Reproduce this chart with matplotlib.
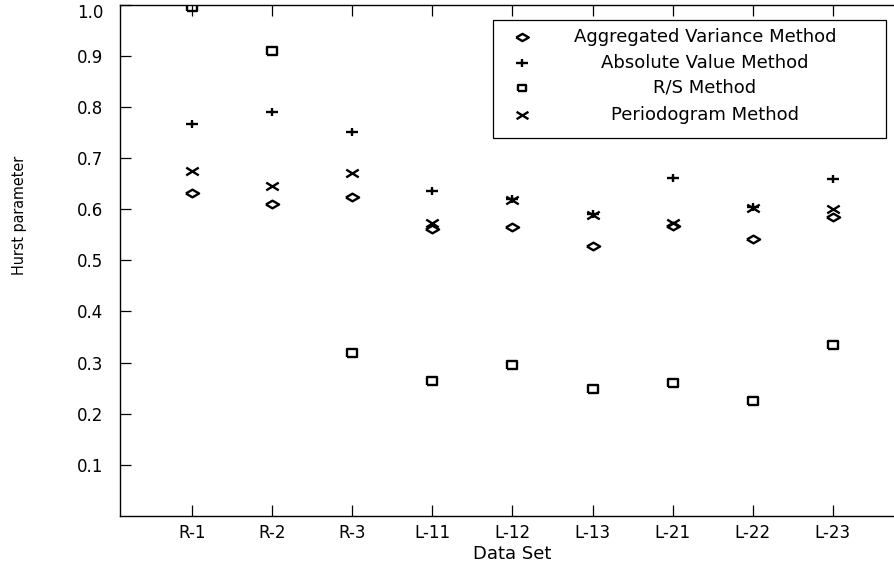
import matplotlib.pyplot as plt
from matplotlib.path import Path
from matplotlib.patches import Rectangle
import numpy as np

# -----------------------------
# Data
# -----------------------------
datasets = ["R-1", "R-2", "R-3", "L-11", "L-12", "L-13", "L-21", "L-22", "L-23"]

aggregated_variance = [0.631, 0.610, 0.623, 0.562, 0.565, 0.528, 0.566, 0.541, 0.584]
absolute_value = [0.767, 0.790, 0.751, 0.635, 0.619, 0.590, 0.661, 0.604, 0.659]
rs_method = [0.996, 0.910, 0.318, 0.263, 0.295, 0.249, 0.260, 0.224, 0.334]
periodogram = [0.674, 0.645, 0.671, 0.573, 0.618, 0.589, 0.572, 0.603, 0.600]

method_names = ["Aggregated Variance Method", "Absolute Value Method",
                "R/S Method", "Periodogram Method"]
y_ticks = [0.1, 0.2, 0.3, 0.4, 0.5, 0.6, 0.7, 0.8, 0.9, 1.0]

# -----------------------------
# Marker shapes (source picture is stretched sideways, so markers are wide)
# -----------------------------
M, L = Path.MOVETO, Path.LINETO
diamond = Path([(-1, 0), (0, 0.58), (1, 0), (0, -0.58), (-1, 0)], [M, L, L, L, L])
plus = Path([(-1, 0), (1, 0), (0, -0.62), (0, 0.62)], [M, L, M, L])
square = Path([(-1, -0.8), (1, -0.8), (1, 0.8), (-1, 0.8), (-1, -0.8)], [M, L, L, L, L])
cross = Path([(-1, -0.62), (1, 0.62), (-1, 0.62), (1, -0.62)], [M, L, M, L])

series = [aggregated_variance, absolute_value, rs_method, periodogram]
markers = [diamond, plus, square, cross]
sizes = [9.5, 9, 6.5, 9]

# -----------------------------
# Figure
# -----------------------------
fig = plt.figure(figsize=(8.95, 5.70), dpi=100)
# axes run slightly past the right edge of the canvas, like the original
ax = fig.add_axes([120 / 895, 54 / 570, 785 / 895, 511.5 / 570])

x = np.arange(1, len(datasets) + 1)
for vals, mk, ms in zip(series, markers, sizes):
    ax.plot(x, vals, linestyle="none", marker=mk, markersize=ms,
            markerfacecolor="none", markeredgecolor="black", markeredgewidth=1.7)

ax.set_xlim(0.1, 9.9)
ax.set_ylim(0, 1.0)
ax.set_xticks(x)
ax.set_xticklabels(datasets)
ax.set_yticks(y_ticks)
ax.set_yticklabels([f"{t:.1f}" for t in y_ticks])

ax.tick_params(direction="in", length=8, width=0.9, top=True, right=True,
               labelsize=12)
ax.tick_params(axis="x", pad=6)
ax.tick_params(axis="y", pad=12)
for s in ax.spines.values():
    s.set_linewidth(1.0)
ax.spines["right"].set_visible(False)

# top label sits just below the axes edge so it is not cut off
ax.get_yticklabels()[-1].set_verticalalignment("top")

ax.set_xlabel("Data Set", fontsize=13)
ax.xaxis.set_label_coords(0.5, -0.056)
ax.set_ylabel("Hurst parameter", fontsize=11.5, fontstretch="condensed")
ax.yaxis.set_label_coords(-0.118, 0.587)

# -----------------------------
# Legend box (text centred like the original)
# -----------------------------
ax.add_patch(Rectangle((0.475, 0.739), 0.501, 0.231, transform=ax.transAxes,
                       facecolor="white", edgecolor="black", linewidth=0.9,
                       zorder=5))
row_y = [0.936, 0.886, 0.837, 0.784]
for name, mk, ms, ry in zip(method_names, markers, sizes, row_y):
    ax.plot([0.512], [ry], transform=ax.transAxes, linestyle="none", marker=mk,
            markersize=ms * 0.95, markerfacecolor="none", markeredgecolor="black",
            markeredgewidth=1.7, zorder=6, clip_on=False)
    ax.text(0.745, ry, name, transform=ax.transAxes, ha="center", va="center",
            fontsize=13, zorder=6)

fig.savefig("out.png", dpi=100)
